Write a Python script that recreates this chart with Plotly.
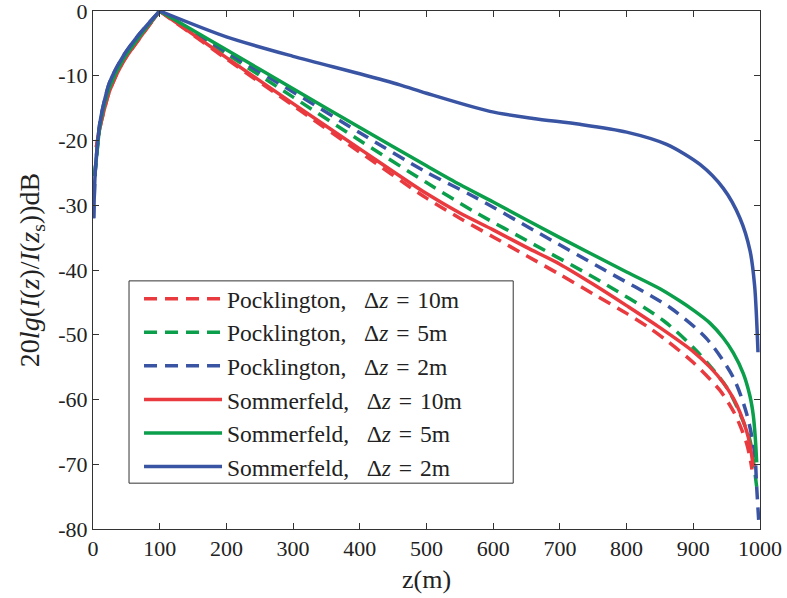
import plotly.graph_objects as go

# ---------------- data ----------------
z_red = [5, 10, 15, 25, 45, 70, 100, 200, 300, 400, 500, 550, 600, 650, 700, 750, 800, 835, 860, 900, 940, 960, 970, 980, 985, 988]
poc10 = [-21.0, -18.2, -16.0, -12.3, -7.9, -4.2, 0, -7.4, -14.6, -21.8, -28.9, -32.0, -34.9, -37.8, -40.7, -43.7, -46.7, -49.0, -50.9, -54.3, -58.6, -61.8, -64.0, -66.8, -69.0, -70.8]

z_red_s = [5, 10, 15, 25, 45, 70, 100, 200, 300, 400, 500, 550, 600, 650, 700, 750, 800, 850, 900, 925, 945, 960, 970, 980, 985, 990]
som10 = [-21.0, -18.2, -16.0, -12.3, -7.9, -4.2, 0, -7.2, -14.3, -21.3, -28.2, -31.2, -33.8, -36.5, -39.1, -42.2, -45.5, -48.9, -52.6, -55.0, -57.4, -59.8, -62.0, -64.9, -67.0, -70.4]

z_green = [2.5, 5, 10, 15, 25, 45, 70, 100, 200, 300, 400, 500, 570, 660, 760, 855, 905, 950, 970, 985, 992, 995]
poc5 = [-25.5, -22.8, -18.0, -15.3, -11.7, -7.5, -3.9, 0, -6.6, -13.3, -20.0, -26.5, -30.9, -36.0, -41.7, -47.8, -52.5, -58.1, -62.2, -66.3, -71.0, -73.5]

z_green_s = [2.5, 5, 10, 15, 25, 45, 70, 100, 200, 300, 400, 500, 550, 600, 700, 800, 850, 880, 900, 925, 945, 960, 975, 985, 990, 993, 995]
som5 = [-25.5, -22.8, -18.0, -15.3, -11.7, -7.5, -3.9, 0, -6.0, -12.0, -18.0, -23.9, -26.8, -29.5, -35.0, -40.3, -42.9, -44.8, -46.2, -48.2, -50.5, -52.8, -56.0, -59.5, -62.5, -66.0, -69.7]

z_blue = [1, 3, 5, 10, 15, 25, 45, 70, 100, 200, 300, 400, 500, 570, 670, 765, 865, 920, 960, 980, 992, 995, 998]
poc2 = [-32.0, -25.5, -22.5, -17.5, -14.8, -11.0, -7.0, -3.5, 0, -6.3, -12.5, -18.8, -24.9, -28.6, -34.4, -39.9, -45.8, -50.6, -56.6, -62.2, -68.3, -73.5, -78.6]

z_blue_s = [1, 3, 5, 10, 15, 25, 45, 70, 100, 200, 300, 400, 460, 500, 595, 660, 730, 800, 860, 910, 945, 970, 985, 992, 997]
som2 = [-32.0, -25.5, -22.5, -17.5, -14.8, -11.0, -7.0, -3.5, 0, -4.0, -7.0, -9.7, -11.4, -12.7, -15.5, -16.6, -17.5, -18.7, -20.6, -23.7, -27.4, -32.0, -37.0, -42.5, -52.7]

x_ticks = [0, 100, 200, 300, 400, 500, 600, 700, 800, 900, 1000]
y_ticks = [-80, -70, -60, -50, -40, -30, -20, -10, 0]
y_tick_text = ["-80", "-70", "-60", "-50", "-40", "-30", "-20", "-10", "0"]

RED = "#E93A3F"
GREEN = "#0B9E4B"
BLUE = "#3A54A4"
DASH = "13px,8px"
SEP = ", \u2002Δ<i>z</i>\u2004=\u200410m".replace("10m", "")

series = [
    ("Pocklington" + SEP + "10m", z_red, poc10, RED, DASH),
    ("Pocklington" + SEP + "5m", z_green, poc5, GREEN, DASH),
    ("Pocklington" + SEP + "2m", z_blue, poc2, BLUE, DASH),
    ("Sommerfeld" + SEP + "10m", z_red_s, som10, RED, "solid"),
    ("Sommerfeld" + SEP + "5m", z_green_s, som5, GREEN, "solid"),
    ("Sommerfeld" + SEP + "2m", z_blue_s, som2, BLUE, "solid"),
]

fig = go.Figure()
for k, (name, xs, ys, col, dash) in enumerate(series):
    ip = xs.index(100)  # feed point: sharp peak, smooth on each side
    for part, (px, py) in enumerate([(xs[ip:], ys[ip:]), (xs[:ip + 1], ys[:ip + 1])]):
        fig.add_trace(go.Scatter(
            x=px, y=py, mode="lines", name=name, legendgroup=f"s{k}",
            showlegend=(part == 0),
            line=dict(color=col, width=3.5, dash=dash, shape="spline", smoothing=0.8),
        ))

FONT = "Liberation Serif"

# opaque legend frame
fig.add_shape(type="rect", xref="paper", yref="paper",
              x0=0.054, x1=0.63, y0=0.0885, y1=0.479,
              line=dict(color="#333", width=1), fillcolor="white", layer="above")

fig.update_layout(
    width=787, height=598,
    margin=dict(l=93, r=27, t=11, b=69),
    paper_bgcolor="white", plot_bgcolor="white",
    font=dict(family=FONT, size=22, color="#222"),
    showlegend=True,
    legend=dict(
        x=0.069, y=0.4865, xanchor="left", yanchor="top",
        bgcolor="rgba(0,0,0,0)", borderwidth=0,
        font=dict(family=FONT, size=23.5, color="#222"),
        itemwidth=78, traceorder="normal", tracegroupgap=0,
    ),
)
fig.update_xaxes(
    range=[0, 1000], tickvals=x_ticks, ticks="inside", ticklen=6,
    showline=True, linecolor="#333", linewidth=1, mirror="allticks",
    showgrid=False, zeroline=False, tickcolor="#333", automargin=False,
    ticklabeloverflow="allow",
    tickfont=dict(family=FONT, size=22),
    title=dict(text="z(m)", font=dict(family=FONT, size=26), standoff=9),
)
fig.update_yaxes(
    range=[-80, 0], tickvals=y_ticks, ticktext=y_tick_text, ticks="inside", ticklen=6,
    showline=True, linecolor="#333", linewidth=1, mirror="allticks",
    showgrid=False, zeroline=False, tickcolor="#333", automargin=False,
    ticklabeloverflow="allow",
    tickfont=dict(family=FONT, size=22),
    title=dict(text="20<i>lg</i>(<i>I</i>(<i>z</i>)/<i>I</i>(<i>z</i><sub>s</sub>))dB",
               font=dict(family=FONT, size=28), standoff=10),
)

fig.write_html("out.html", config={"displayModeBar": False},
               post_script="document.body.style.margin='0';")
